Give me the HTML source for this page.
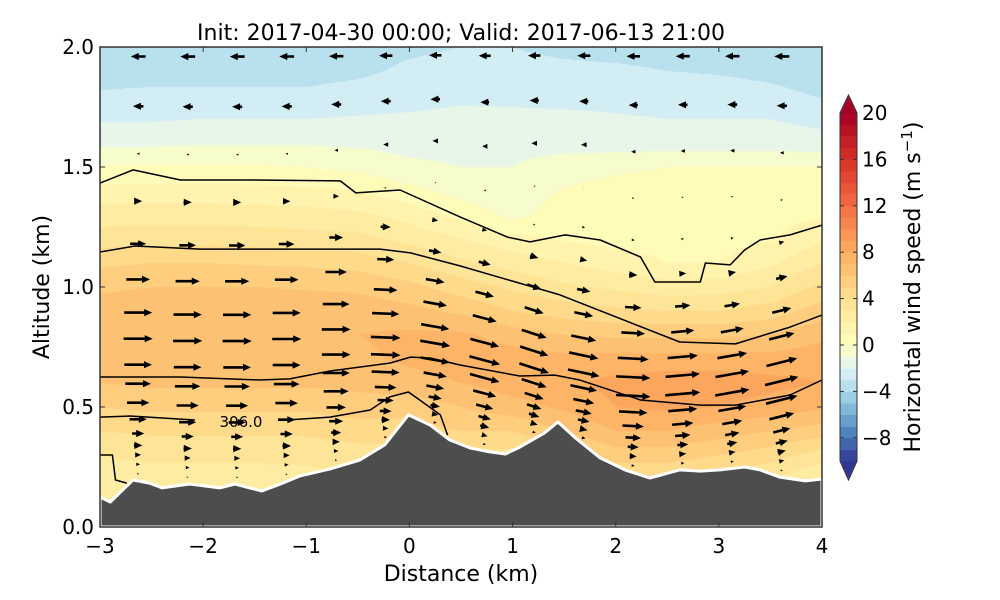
<!DOCTYPE html>
<html><head><meta charset="utf-8"><style>
html,body{margin:0;padding:0;background:#fff;}
#wrap{position:relative;width:1000px;height:600px;overflow:hidden;font-family:"DejaVu Sans","Liberation Sans",sans-serif;}
canvas{position:absolute;left:0;top:0;}
svg{position:absolute;left:0;top:0;}
</style></head><body>
<div id="wrap">
<canvas id="field" width="1000" height="600"></canvas>
<svg id="svg" width="1000" height="600"></svg>
</div>
<script>
// ---- data ----
const gridX = [-3,-2.5,-2,-1.5,-1,-0.5,0,0.5,1,1.5,2,2.5,3,3.5,4];
const gridZ = [2.0,1.9,1.8,1.7,1.6,1.5,1.4,1.3,1.2,1.1,1.0,0.9,0.8,0.7,0.6,0.5,0.4,0.3,0.2,0.1,0.0];
const speed = [
[-3.6,-3.6,-3.6,-3.6,-3.6,-3.5,-3.2,-3,-3,-3.3,-3.4,-3.5,-3.6,-3.7,-3.8],
[-3.4,-3.4,-3.4,-3.4,-3.4,-3.2,-2.8,-2.6,-2.6,-2.7,-2.8,-3,-3.1,-3.3,-3.6],
[-2.9,-2.8,-2.8,-2.8,-2.8,-2.6,-2.5,-2.3,-2.3,-2.3,-2.3,-2.4,-2.5,-2.7,-3.1],
[-2.1,-2.1,-2,-2,-2,-1.9,-1.8,-1.6,-1.7,-1.8,-1.9,-2,-2,-2,-2.3],
[-1.2,-1.2,-1.1,-1.1,-1.1,-1.2,-1.3,-1.3,-1.3,-1.4,-1.5,-1.5,-1.5,-1.5,-1.6],
[0.1,0.1,0.1,0.1,0,-0.3,-0.8,-1,-1,-0.5,-0.2,0,0,0,0],
[1.4,1.4,1.4,1.3,1.2,1,0.3,-0.4,-0.6,0.1,0.4,0.4,0.4,0.4,0.5],
[2.5,2.6,2.6,2.5,2.4,2.2,1.6,0.7,-0.3,0.5,0.6,0.5,0.5,0.6,0.9],
[3.5,3.6,3.6,3.5,3.4,3.3,2.7,2,1.3,0.9,0.7,0.6,0.6,0.9,1.8],
[4.8,5,5,4.9,4.8,4.6,4,3.2,2.6,2,1.5,1,1,1.8,3],
[5.8,6,6,6,5.9,5.8,5.3,4.5,3.8,3.2,2.8,2.4,2.5,3,4.3],
[6.5,6.7,6.7,6.7,6.6,6.6,6.3,5.8,5,4.5,4.2,4,4,4.5,5.5],
[6.8,7,7,7,6.9,7,7.2,7.2,6.5,6,5.8,5.8,5.8,6,6.8],
[6.6,6.8,6.8,6.8,6.8,6.8,7.2,7.6,7.6,7.3,7.4,7.4,7.4,7.4,7.6],
[6,6.2,6.2,6.2,6.2,6.3,6.6,7,7.5,7.8,8.3,8.6,8.6,8.3,8],
[5,5.2,5.2,5.2,5.2,5.5,5.4,6,6.6,7.2,8,8.2,8,7.6,7.2],
[4,4.2,4.2,4.2,4.2,4.5,4.5,5,5,6,7,7,6.5,6,5.5],
[3,3.2,3.2,3.2,3.3,3.5,3.5,3.8,3.6,4.5,5.5,5.5,5,4.5,3.5],
[2.5,2.6,2.6,2.6,2.6,3,3,3,3,3,4,4,3.5,3,2],
[2,2,2,2,2,2.5,2.5,2.5,2.5,2.5,3,3,3,2.5,1.5],
[2,2,2,2,2,2.5,2.5,2.5,2.5,2.5,3,3,3,2.5,1.5]
];
const terrainX = [-3,-2.9,-2.68,-2.52,-2.4,-2.27,-2.13,-1.98,-1.84,-1.69,-1.55,-1.43,-1.25,-1.06,-0.77,-0.48,-0.24,-0.01,0.2,0.39,0.59,0.78,0.93,1.07,1.31,1.44,1.61,1.85,2.09,2.33,2.62,2.82,3.01,3.25,3.4,3.59,3.84,4];
const terrainZ = [0.125,0.104,0.196,0.183,0.163,0.171,0.179,0.171,0.163,0.179,0.163,0.15,0.179,0.213,0.242,0.279,0.342,0.467,0.425,0.363,0.329,0.313,0.304,0.333,0.392,0.4375,0.371,0.288,0.238,0.204,0.238,0.233,0.238,0.25,0.238,0.208,0.192,0.2];
const contour1X = [-3,-2.68,-2.22,-1.55,-0.67,-0.52,-0.09,0.49,0.95,1.17,1.51,1.85,2.24,2.38,2.82,2.87,3.11,3.25,3.4,3.69,4];
const contour1Z = [1.433,1.488,1.446,1.446,1.442,1.392,1.404,1.292,1.208,1.188,1.217,1.196,1.125,1.021,1.021,1.1,1.092,1.154,1.196,1.217,1.258];
const contour2X = [-3,-2.66,-2.03,-0.29,0.01,0.49,1.46,2.62,3.16,3.69,4];
const contour2Z = [1.146,1.171,1.158,1.158,1.142,1.088,0.967,0.771,0.763,0.833,0.883];
const contour3X = [-3,-2.22,-1.45,-1.16,-0.77,-0.19,0.01,0.2,0.49,1.07,1.41,1.65,2.24,2.82,3.16,3.69,4];
const contour3Z = [0.625,0.625,0.6125,0.617,0.65,0.683,0.708,0.704,0.675,0.629,0.633,0.6125,0.529,0.508,0.508,0.55,0.6125];
const contour4aX = [-3,-2.71,-2.08];
const contour4aZ = [0.458,0.4625,0.446];
const contour4bX = [-1.19,-0.77,-0.38,-0.19,-0.01,0.1,0.3,0.37];
const contour4bZ = [0.446,0.458,0.4875,0.542,0.5625,0.529,0.467,0.383];
const contour5X = [-3,-2.88,-2.85,-2.74];
const contour5Z = [0.3,0.3,0.196,0.183];
const arrowColX = [-2.63,-2.15,-1.67,-1.19,-0.71,-0.23,0.25,0.73,1.21,1.69,2.17,2.65,3.13,3.61];
const arrowLevelZ = [1.96,1.75,1.55,1.35,1.17,1.02,0.88,0.77,0.66,0.58,0.5,0.43,0.37,0.32,0.28,0.24,0.2];
const flowAngleDeg = [0,0,0,0,0,2,10,15,18,12,3,-5,-10,-14];
const xTicks = [-3,-2,-1,0,1,2,3,4];
const yTicks = [0.0,0.5,1.0,1.5,2.0];
const cbTicks = [-8,-4,0,4,8,12,16,20];

// ---- axes ----
const PX0=100, PX1=822, PY0=527, PY1=47;
const xs = v => PX0 + (v+3)/7*(PX1-PX0);
const ys = v => PY0 - v/2*(PY0-PY1);
const CB_TOP=113, CB_BOT=461;
const cbs = v => CB_BOT - (v+10)/30*(CB_BOT-CB_TOP);

const stops=[[0,[49,54,149]],[0.1,[69,117,180]],[0.2,[116,173,209]],[0.3,[171,217,233]],[0.4,[224,243,248]],[0.5,[255,255,191]],[0.6,[254,224,144]],[0.7,[253,174,97]],[0.8,[244,109,67]],[0.9,[215,48,39]],[1,[165,0,38]]];
function cmap(t){t=Math.max(0,Math.min(1,t));for(let i=1;i<stops.length;i++){if(t<=stops[i][0]){const a=stops[i-1],b=stops[i];const f=(t-a[0])/(b[0]-a[0]);return a[1].map((c,k)=>Math.round(c+(b[1][k]-c)*f));}}return stops[stops.length-1][1];}
const norm = v => v<0 ? 0.5+v/20 : 0.5+v/40;
const bandColor = v => cmap(norm(Math.floor(v)+0.5));
const rgb = c => `rgb(${c[0]},${c[1]},${c[2]})`;

function interp(x,z){
  let i=0; while(i<gridX.length-2 && x>gridX[i+1]) i++;
  let fx=(x-gridX[i])/(gridX[i+1]-gridX[i]); fx=Math.max(0,Math.min(1,fx));
  let zi=(2.0-z)/0.1; let j=Math.max(0,Math.min(gridZ.length-2,Math.floor(zi))); let fz=Math.max(0,Math.min(1,zi-j));
  const a=speed[j][i]*(1-fx)+speed[j][i+1]*fx, b=speed[j+1][i]*(1-fx)+speed[j+1][i+1]*fx;
  return a*(1-fz)+b*fz;
}
function terrainAt(x){for(let i=1;i<terrainX.length;i++){if(x<=terrainX[i]){const f=(x-terrainX[i-1])/(terrainX[i]-terrainX[i-1]);return terrainZ[i-1]+(terrainZ[i]-terrainZ[i-1])*f;}}return terrainZ[terrainZ.length-1];}

// field canvas
const ctx=document.getElementById('field').getContext('2d');
const img=ctx.createImageData(PX1-PX0,PY0-PY1);
for(let py=0;py<PY0-PY1;py++){for(let px=0;px<PX1-PX0;px++){
  const x=-3+(px+0.5)/(PX1-PX0)*7, z=2-(py+0.5)/(PY0-PY1)*2;
  const c=bandColor(interp(x,z)); const k=(py*(PX1-PX0)+px)*4;
  img.data[k]=c[0];img.data[k+1]=c[1];img.data[k+2]=c[2];img.data[k+3]=255;}}
ctx.putImageData(img,PX0,PY1);
// colorbar on canvas
for(let v=-10;v<20;v++){const c=cmap(norm(v+0.5));ctx.fillStyle=rgb(c);ctx.fillRect(840,cbs(v+1),17,cbs(v)-cbs(v+1)+0.5);}
ctx.fillStyle=rgb(cmap(1));ctx.beginPath();ctx.moveTo(840,CB_TOP);ctx.lineTo(848.5,95);ctx.lineTo(857,CB_TOP);ctx.fill();
ctx.fillStyle=rgb(cmap(0));ctx.beginPath();ctx.moveTo(840,CB_BOT);ctx.lineTo(848.5,480);ctx.lineTo(857,CB_BOT);ctx.fill();

// ---- svg ----
const NS='http://www.w3.org/2000/svg', svg=document.getElementById('svg');
function mk(tag,attrs,parent){const e=document.createElementNS(NS,tag);for(const k in attrs)e.setAttribute(k,attrs[k]);(parent||svg).appendChild(e);return e;}
function txt(s,attrs){const e=mk('text',attrs);e.textContent=s;return e;}

// terrain
let tp=`M${xs(-3)},${ys(0)} `+terrainX.map((x,i)=>`L${xs(x).toFixed(1)},${ys(terrainZ[i]).toFixed(1)}`).join(' ')+` L${xs(4)},${ys(0)} Z`;
let t=mk('path',{d:tp,fill:'#4d4d4d',stroke:'#ffffff','stroke-width':3,'stroke-linejoin':'round'});



// contours
function line(X,Z,name){const d=X.map((x,i)=>(i?'L':'M')+xs(x).toFixed(1)+','+ys(Z[i]).toFixed(1)).join(' ');
  const e=mk('path',{d:d,fill:'none',stroke:'#000','stroke-width':1.5,'stroke-linejoin':'round'});
  
  }
line(contour1X,contour1Z,'theta-contour-1');
line(contour2X,contour2Z,'theta-contour-2');
line(contour3X,contour3Z,'theta-contour-3');
line(contour4aX,contour4aZ,'theta-contour-4a');
line(contour4bX,contour4bZ,'theta-contour-4b');
line(contour5X,contour5Z,'theta-contour-5');
let lab=txt('306.0',{x:241,y:427,'font-size':15,'text-anchor':'middle',fill:'#000'});



// arrows
const ag=mk('g',{});


const PXPERMS=4.2;
arrowColX.forEach((x,ci)=>{
  const tz=terrainAt(x);
  arrowLevelZ.forEach(zl=>{
    const z=tz+(zl-0.17)*(2.0-tz)/(2.0-0.17);
    if(z<=tz+0.01||z>1.99) return;
    const agl=z-tz;
    const u=interp(x,z);
    const ang=(u>0?flowAngleDeg[ci]:0)*Math.PI/180;
    const shrink=Math.min(1,Math.pow(agl/0.3,0.8));
    const L=Math.abs(u)*PXPERMS*shrink; const dir=u>=0?1:-1;
    const cx=xs(x), cy=ys(z);
    const hl=Math.min(8,L), hw=hl*0.45, sw=1.3*Math.min(1,L/8);
    const sx=-L/2, ex=L/2;
    const pts=[[sx,-sw],[ex-hl,-sw],[ex-hl,-hw],[ex,0],[ex-hl,hw],[ex-hl,sw],[sx,sw]];
    const ca=Math.cos(ang), sa=Math.sin(ang);
    const p=pts.map(([a,b])=>{a*=dir;return [(cx+a*ca-b*sa*dir).toFixed(1),(cy+a*sa*dir+b*ca).toFixed(1)].join(',');}).join(' ');
    const e=mk('polygon',{points:p,fill:'#000'},ag);
    
    
  });
});

// frame
let fr=mk('rect',{x:PX0,y:PY1,width:PX1-PX0,height:PY0-PY1,fill:'none',stroke:'#333','stroke-width':1.5});


xTicks.forEach(v=>{const X=xs(v);
  mk('line',{x1:X,y1:PY0,x2:X,y2:PY0-5,stroke:'#333','stroke-width':1});
  mk('line',{x1:X,y1:PY1,x2:X,y2:PY1+5,stroke:'#333','stroke-width':1});
  const e=txt(v<0?'\u2212'+(-v):String(v),{x:X,y:553,'font-size':20,'text-anchor':'middle',fill:'#000'});
  
  });
yTicks.forEach(v=>{const Y=ys(v);
  mk('line',{x1:PX0,y1:Y,x2:PX0+5,y2:Y,stroke:'#333','stroke-width':1});
  mk('line',{x1:PX1,y1:Y,x2:PX1-5,y2:Y,stroke:'#333','stroke-width':1});
  const e=txt(v.toFixed(1),{x:94,y:Y+7,'font-size':20,'text-anchor':'end',fill:'#000'});
  
  });

let ti=txt('Init: 2017-04-30 00:00; Valid: 2017-06-13 21:00',{x:461,y:40,'font-size':22,'text-anchor':'middle',fill:'#000'});


let xl=txt('Distance (km)',{x:461,y:581,'font-size':22,'text-anchor':'middle',fill:'#000'});


let yl=txt('Altitude (km)',{x:0,y:0,'font-size':22,'text-anchor':'middle',fill:'#000',transform:'translate(49,287) rotate(-90)'});



// colorbar outline & ticks
let cbo=mk('path',{d:`M840,${CB_TOP} L848.5,95 L857,${CB_TOP} L857,${CB_BOT} L848.5,480 L840,${CB_BOT} Z`,fill:'none',stroke:'#333','stroke-width':1});


cbTicks.forEach(v=>{const Y=cbs(v);
  mk('line',{x1:853,y1:Y,x2:857,y2:Y,stroke:'#333','stroke-width':1});
  mk('line',{x1:840,y1:Y,x2:844,y2:Y,stroke:'#333','stroke-width':1});
  const e=txt(v<0?'\u2212'+(-v):String(v),{x:862,y:Y+7,'font-size':20,fill:'#000'});
  
  });
let cl=mk('text',{x:0,y:0,'font-size':22,'text-anchor':'middle',fill:'#000',transform:'translate(920,287) rotate(-90)'});
cl.innerHTML='Horizontal wind speed (m s<tspan dy="-8" font-size="15">\u22121</tspan><tspan dy="8">)</tspan>';


</script>
</body></html>
